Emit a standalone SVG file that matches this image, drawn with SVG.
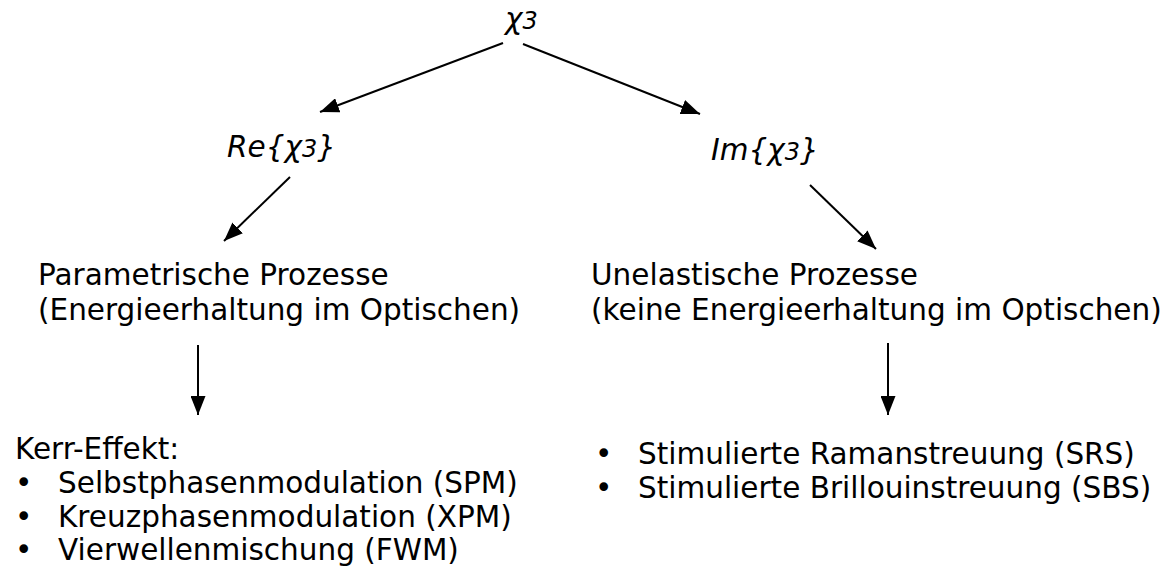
<svg xmlns="http://www.w3.org/2000/svg" width="1168" height="566" viewBox="0 0 1168 566">
<defs>
<style>
text{font-family:"DejaVu Sans","Verdana",sans-serif;fill:#000;}
.t{font-size:29.5px;}
.m{font-size:29.5px;font-style:italic;}
.s{font-size:24px;}
.c{stroke:#000;stroke-width:2;fill:none;}
</style>
<marker id="ah2" viewBox="0 0 10 10" refX="10" refY="5" markerWidth="19" markerHeight="15" markerUnits="userSpaceOnUse" orient="auto" preserveAspectRatio="none">
<path d="M0,0 L10,5 L0,10 z" fill="#000"/>
</marker>
</defs>
<g id="connectors">
<line class="c" x1="503" y1="43" x2="320" y2="112" marker-end="url(#ah2)"/>
<line class="c" x1="523" y1="44" x2="700" y2="114" marker-end="url(#ah2)"/>
<line class="c" x1="290" y1="177" x2="224" y2="241" marker-end="url(#ah2)"/>
<line class="c" x1="810" y1="185" x2="876" y2="249" marker-end="url(#ah2)"/>
<line class="c" x1="198" y1="345" x2="198" y2="415" marker-end="url(#ah2)"/>
<line class="c" x1="888" y1="343" x2="888" y2="415" marker-end="url(#ah2)"/>
</g>
<g id="chi3"><text class="m" x="505" y="29">χ<tspan class="s">3</tspan></text></g>
<g id="re"><text class="m" x="227" y="157">Re{χ<tspan class="s">3</tspan>}</text></g>
<g id="im"><text class="m" x="711" y="160">Im{χ<tspan class="s">3</tspan>}</text></g>
<g id="parametrisch">
<text class="t" x="38" y="285">Parametrische Prozesse</text>
<text class="t" x="38" y="320">(Energieerhaltung im Optischen)</text>
</g>
<g id="unelastisch">
<text class="t" x="591" y="285">Unelastische Prozesse</text>
<text class="t" x="591" y="320">(keine Energieerhaltung im Optischen)</text>
</g>
<g id="kerr">
<text class="t" x="15" y="459">Kerr-Effekt:</text>
<text class="t" x="15" y="493">•</text><text class="t" x="58" y="493">Selbstphasenmodulation (SPM)</text>
<text class="t" x="15" y="527">•</text><text class="t" x="58" y="527">Kreuzphasenmodulation (XPM)</text>
<text class="t" x="15" y="560">•</text><text class="t" x="58" y="560">Vierwellenmischung (FWM)</text>
</g>
<g id="streuung">
<text class="t" x="595" y="464">•</text><text class="t" x="638" y="464">Stimulierte Ramanstreuung (SRS)</text>
<text class="t" x="595" y="498">•</text><text class="t" x="638" y="498">Stimulierte Brillouinstreuung (SBS)</text>
</g>
</svg>
